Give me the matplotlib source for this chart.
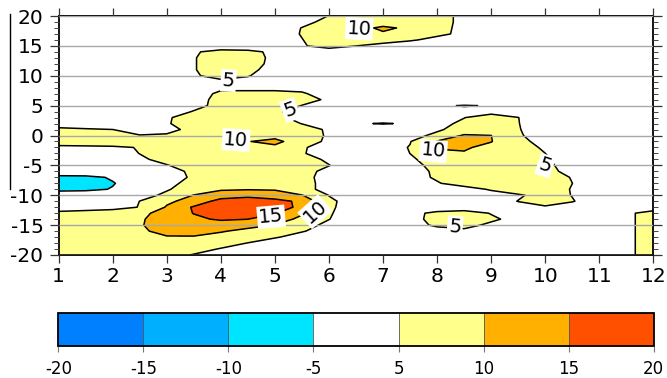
import numpy as np
import matplotlib
matplotlib.use("Agg")
import matplotlib.pyplot as plt
from matplotlib.lines import Line2D

plt.rcParams['font.family'] = ['DejaVu Sans']
plt.rcParams['axes.unicode_minus'] = False
plt.rcParams['contour.negative_linestyle'] = 'solid'

# grid coordinates: month (x, step 0.5) and latitude (y, step 1, listed top-down)
months = np.linspace(1, 12, 23)
lats_top_down = list(range(20, -21, -1))

# field values, one row per latitude (x = 1, 1.5, ..., 12)
lat_p20 = [2, 2, 2, 2, 2, 2, 2, 2, 2, 3.1, 5.1, 7.1, 9, 8.2, 6.2, 4.2, 2, 2, 2, 2, 2, 2, 2]
lat_p19 = [2, 2, 2, 2, 2, 2, 2, 2, 2, 4.0, 6.0, 8.0, 8.0, 8.2, 6.2, 4.2, 2, 2, 2, 2, 2, 2, 2]
lat_p18 = [2, 2, 2, 2, 2, 2, 2, 2, 3.0, 5.1, 7.0, 8.7, 10.7, 9.3, 6.1, 4.1, 2, 2, 2, 2, 2, 2, 2]
lat_p17 = [2, 2, 2, 2, 2, 2, 2, 2, 3.2, 5.2, 7.2, 8.5, 9.5, 8.0, 6.0, 4.0, 2, 2, 2, 2, 2, 2, 2]
lat_p16 = [2, 2, 2, 2, 2, 2, 2, 2, 2.9, 4.9, 6.9, 8.5, 7.6, 5.6, 3.6, 2, 2, 2, 2, 2, 2, 2, 2]
lat_p15 = [2, 2, 2, 2, 2, 2, 2, 2, 2, 4.6, 6.6, 5.05, 3.0, 2, 2, 2, 2, 2, 2, 2, 2, 2, 2]
lat_p14 = [2, 2, 2, 2, 2.5, 4.5, 6.5, 6.1, 4.1, 2.5, 2.6, 2, 2, 2, 2, 2, 2, 2, 2, 2, 2, 2, 2]
lat_p13 = [2, 2, 2, 2, 2.8, 4.8, 6.8, 6.3, 4.3, 2, 2, 2, 2, 2, 2, 2, 2, 2, 2, 2, 2, 2, 2]
lat_p12 = [2, 2, 2, 2, 2.8, 4.8, 6.8, 6.2, 4.2, 2, 2, 2, 2, 2, 2, 2, 2, 2, 2, 2, 2, 2, 2]
lat_p11 = [2, 2, 2, 2, 2.8, 4.8, 6.8, 5.8, 3.8, 2, 2, 2, 2, 2, 2, 2, 2, 2, 2, 2, 2, 2, 2]
lat_p10 = [2, 2, 2, 2, 2.5, 4.5, 6.5, 5.2, 3.2, 2, 2, 2, 2, 2, 2, 2, 2, 2, 2, 2, 2, 2, 2]
lat_p09 = [2, 2, 2, 2, 2.5, 3.5, 4.0, 3.9, 3.5, 3, 2, 2, 2, 2, 2, 2, 2, 2, 2, 2, 2, 2, 2]
lat_p08 = [2, 2, 2, 2, 2, 3.0, 4.4, 3.0, 3.0, 4.0, 3.0, 2, 2, 2, 2, 2, 2, 2, 2, 2, 2, 2, 2]
lat_p07 = [2, 2, 2, 2, 2, 3.6, 5.6, 7.0, 7.0, 5.4, 3.4, 2, 2, 2, 2, 2, 2, 2, 2, 2, 2, 2, 2]
lat_p06 = [2, 2, 2, 2, 2, 3.9, 5.9, 7.9, 8.0, 6.4, 4.4, 2.4, 2, 2, 2, 2, 2, 2, 2, 2, 2, 2, 2]
lat_p05 = [2, 2, 2, 2, 2, 4.0, 6.0, 8.0, 7.0, 4.9, 3.0, 2, 2, 2, 4.5, 5.2, 4.8, 2, 2, 2, 2, 2, 2]
lat_p04 = [2, 2, 2, 2, 3.2, 5.2, 7.2, 7.6, 5.6, 3.6, 2, 2, 2, 2, 3.0, 4.0, 3.5, 3.5, 2, 2, 2, 2, 2]
lat_p03 = [2, 2, 2, 2, 4.6, 6.6, 8.0, 7.9, 5.9, 3.9, 2, 2, 2, 2, 3.0, 4.9, 7.0, 5.05, 3.0, 2, 2, 2, 2]
lat_p02 = [2, 2, 2, 2, 4.7, 6.7, 8, 8, 6.9, 4.9, 2.9, 4.5, 5.3, 4.5, 3.8, 5.8, 7.1, 5.1, 3.1, 2, 2, 2, 2]
lat_p01 = [6.3, 5.5, 5.02, 3.0, 4.0, 6.0, 8, 8, 8, 6.5, 4.5, 2.5, 2, 2, 4.5, 6.5, 7.2, 5.2, 3.2, 2, 2, 2, 2]
lat_000 = [8, 8, 7.5, 5.2, 5.4, 7, 8, 8.5, 8.5, 6.6, 4.6, 2.6, 2, 3.8, 5.8, 10.6, 10.05, 5.4, 3.4, 2, 2, 2, 2]
lat_m01 = [7, 7, 7, 7, 7.5, 8, 7.8, 9.84, 11.2, 7.5, 4.0, 2, 2.8, 4.8, 10.4, 11, 10.2, 5.9, 3.9, 2, 2, 2, 2]
lat_m02 = [4.1, 4.3, 4.5, 5.15, 7.3, 8, 8, 8.5, 9.0, 5.4, 3.4, 2, 3.2, 5.2, 10.2, 10.6, 8.6, 6.5, 4.5, 2.5, 2, 2, 2]
lat_m03 = [2.5, 2.5, 3.0, 5.08, 7.1, 8, 8, 8, 7.3, 5.3, 3.3, 2, 3.0, 5.02, 9.5, 9.6, 9.0, 7.0, 5.02, 3.0, 2, 2, 2]
lat_m04 = [1, 1, 2, 4.3, 6.3, 8, 8, 8, 8, 6.4, 4.4, 2.4, 2, 4.5, 6.5, 8, 8, 7.4, 5.4, 3.4, 2, 2, 2]
lat_m05 = [-1, -1, 0, 2.8, 4.8, 6.8, 8, 8, 8, 7.0, 5.1, 3.0, 2, 4.0, 6.0, 8, 8, 7.7, 5.7, 3.7, 2, 2, 2]
lat_m06 = [-1.8, -1.8, -1.0, 1.0, 3.7, 5.7, 7.7, 8, 8, 6.1, 4.1, 2, 2, 3.6, 5.6, 7.6, 8, 8, 6, 4, 2, 2, 2]
lat_m07 = [-6.2, -6.0, -4.6, 0, 3.5, 5.5, 7.5, 8, 8, 5.9, 3.9, 2, 2, 3.5, 5.5, 7.5, 8, 8, 6.8, 4.8, 2.5, 2, 2]
lat_m08 = [-7, -7, -5.2, -3.2, 4.1, 6.1, 8.1, 8.5, 8.5, 6.0, 4.0, 2, 2, 2, 4.7, 6.7, 8, 8, 7, 5.02, 3, 2, 2]
lat_m09 = [-6, -5.8, -4.8, -2, 4.7, 6.7, 9.5, 9.7, 9.6, 6.0, 4.0, 2, 2, 2, 2, 3.4, 5.4, 7.4, 6.8, 4.8, 2.5, 2, 2]
lat_m10 = [-2.7, -2.5, -1, 3.7, 5.7, 10.2, 12.2, 13.5, 12.2, 10.2, 4.9, 2, 2, 2, 2, 2, 3.4, 4.5, 6.5, 4.9, 2, 2, 2]
lat_m11 = [-0.5, 0, 1.5, 5.05, 9.2, 11.6, 17, 18, 16.6, 14, 5.6, 3.6, 2, 2, 2, 2, 3.1, 5.1, 6.8, 5.2, 3.2, 2, 2]
lat_m12 = [1.5, 2, 3.2, 5.2, 10.4, 15.6, 17, 18, 16.6, 14.2, 5.5, 3.5, 2, 2, 2.5, 2.5, 2.5, 3.5, 4.5, 3.5, 2, 2, 2]
lat_m13 = [6.5, 7.4, 7.7, 9.2, 11.2, 15.2, 17.2, 17.4, 15.4, 10.4, 5.3, 3.3, 2, 3.9, 5.9, 6.8, 4.8, 3, 2, 2, 2, 4.0, 7]
lat_m14 = [8, 8, 8.5, 9.6, 11.6, 13.8, 15.8, 15.05, 11.6, 9.2, 5.08, 3.1, 2, 4.0, 6.0, 7.7, 5.7, 3.7, 2, 2, 2, 4.0, 7]
lat_m15 = [8, 8, 8.5, 9.7, 11.7, 13, 11.8, 11.8, 9.8, 6.2, 4.2, 2.5, 2, 3.6, 5.6, 6.2, 4.2, 2.5, 2, 2, 2, 4.0, 7]
lat_m16 = [8, 8, 8.5, 9.3, 11.3, 12.5, 10.5, 8.5, 7.3, 5.3, 3.3, 2, 2, 2, 3.5, 4.2, 3.0, 2, 2, 2, 2, 4.0, 7]
lat_m17 = [8, 8, 8.5, 9.0, 9.7, 9.5, 8, 7.4, 5.4, 3.4, 2, 2, 2, 2, 2, 2, 2, 2, 2, 2, 2, 4.0, 7]
lat_m18 = [7.5, 7.5, 8, 8, 8, 8, 6.9, 4.9, 2.9, 2, 2, 2, 2, 2, 2, 2, 2, 2, 2, 2, 2, 4.0, 7]
lat_m19 = [7.5, 7.5, 7.5, 7.5, 8, 6.7, 4.7, 2.7, 2, 2, 2, 2, 2, 2, 2, 2, 2, 2, 2, 2, 2, 4.0, 7]
lat_m20 = [7, 7, 7, 7, 6.7, 4.7, 2.7, 2, 2, 2, 2, 2, 2, 2, 2, 2, 2, 2, 2, 2, 2, 4.0, 7]

rows_top_down = [lat_p20, lat_p19, lat_p18, lat_p17, lat_p16, lat_p15, lat_p14, lat_p13,
                 lat_p12, lat_p11, lat_p10, lat_p09, lat_p08, lat_p07, lat_p06, lat_p05,
                 lat_p04, lat_p03, lat_p02, lat_p01, lat_000, lat_m01, lat_m02, lat_m03,
                 lat_m04, lat_m05, lat_m06, lat_m07, lat_m08, lat_m09, lat_m10, lat_m11,
                 lat_m12, lat_m13, lat_m14, lat_m15, lat_m16, lat_m17, lat_m18, lat_m19,
                 lat_m20]

levels = [-20, -15, -10, -5, 5, 10, 15, 20]
fill_colors = ['#0080ff', '#00b0ff', '#00e5ff', '#ffffff', '#ffff8c', '#ffb000', '#ff5000']

x_ticks = list(range(1, 13))
y_ticks = [-20, -15, -10, -5, 0, 5, 10, 15, 20]

# contour label placement (position, rotation)
labels_5 = [((4.14, 9.2), -4), ((5.28, 4.25), 20), ((10.0, -5.05), -18), ((8.33, -15.3), -5)]
labels_10 = [((6.56, 17.85), -3), ((4.28, -0.75), -4), ((5.74, -12.75), 42), ((7.93, -2.6), -5)]
labels_15 = [((4.93, -13.6), 5)]

lats = np.array(lats_top_down[::-1], dtype=float)
Z = np.array(rows_top_down[::-1], dtype=float)

fig = plt.figure(figsize=(6.67, 3.78), dpi=100)
W, H = 667.0, 378.0
ax = fig.add_axes([58.7 / W, 1 - 255 / H, (653.3 - 58.7) / W, (255 - 16) / H])

cf = ax.contourf(months, lats, Z, levels=levels, colors=fill_colors)
ax.contour(months, lats, Z, levels=[-20, -15, -10, -5, 20], colors='black', linewidths=1.1)

for lev, specs in ((5, labels_5), (10, labels_10), (15, labels_15)):
    cs = ax.contour(months, lats, Z, levels=[lev], colors='black', linewidths=1.1)
    pts = [p for p, r in specs]
    txts = ax.clabel(cs, manual=pts, inline=False, fmt='%d', fontsize=14)
    for t, (p, r) in zip(txts, specs):
        t.set_position(p)
        t.set_rotation(r)
        t.set_bbox(dict(boxstyle='square,pad=0.08', fc='white', ec='none'))
        t.set_zorder(5)

ax.set_xlim(1, 12)
ax.set_ylim(-20, 20)
ax.set_xticks(x_ticks)
ax.set_yticks(y_ticks)
ax.yaxis.set_minor_locator(matplotlib.ticker.MultipleLocator(1))
ax.grid(axis='y', which='major', color='#a8a8a8', linewidth=1.0)
ax.set_axisbelow(False)

ax.tick_params(axis='y', which='major', direction='out', length=6.5, width=0.9,
               color='#333333', left=True, right=True, labelsize=14.5, pad=4.5)
ax.tick_params(axis='y', which='minor', direction='out', length=3.5, width=0.7,
               color='#444444', left=True, right=True)
ax.tick_params(axis='x', which='major', direction='out', length=6, width=0.9,
               color='#333333', top=True, bottom=True, labelsize=14.5, pad=2.5)
for s in ax.spines.values():
    s.set_linewidth(1.3)
    s.set_color('black')

cax = fig.add_axes([58.3 / W, 1 - 345.7 / H, (653.7 - 58.3) / W, 32.4 / H])
cb = fig.colorbar(cf, cax=cax, orientation='horizontal', ticks=levels, drawedges=True)
cb.dividers.set_color('#555555')
cb.dividers.set_linewidth(0.6)
cb.outline.set_linewidth(1.3)
cb.set_ticklabels([str(v) for v in levels])
cax.tick_params(direction='out', length=4.5, width=0.8, color='#777777', labelsize=12, pad=5.5)

fig.add_artist(Line2D([9.5 / W, 9.5 / W], [1 - 14 / H, 1 - 189 / H],
                      transform=fig.transFigure, color='black', linewidth=1.0))

fig.savefig('out.png', dpi=100)
